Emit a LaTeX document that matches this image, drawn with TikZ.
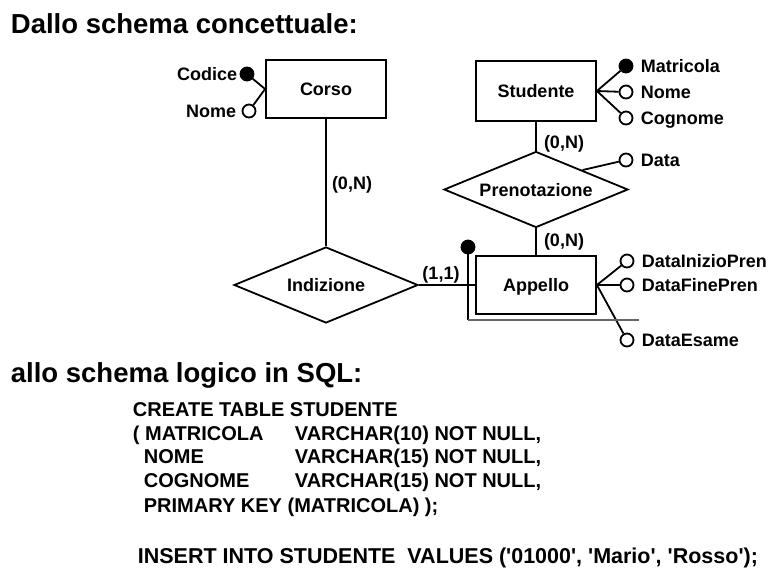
\documentclass[tikz,border=0pt]{standalone}
\usepackage{fontspec}
\setmainfont{Liberation Sans}
\usetikzlibrary{shapes.geometric}
\newcommand{\sq}{\textquotesingle}
\begin{document}
\begin{tikzpicture}[x=1pt,y=-1pt,line width=1.8pt,
  lbl/.style={inner sep=0pt,font=\fontsize{18}{20}\selectfont\bfseries,text height=13pt,text depth=0pt},
  entity/.style={lbl,draw,rectangle,minimum width=120pt,minimum height=58pt},
  rel/.style={lbl,draw,diamond,aspect=2.4,minimum width=184pt,minimum height=76pt},
  attr/.style={draw,circle,fill=white,minimum size=13pt,inner sep=0pt},
  keyattr/.style={attr,fill=black},
  title/.style={inner sep=0pt,anchor=base west,font=\fontsize{27.5}{30}\selectfont\bfseries},
  sql/.style={inner sep=0pt,anchor=base west,font=\fontsize{20}{22}\selectfont\bfseries}]
\useasboundingbox (0,0) rectangle (777,582);
% titles
\node[title] (t1) at (10,33) {Dallo schema concettuale:};
\node[title] (t2) at (10,382) {allo schema logico in SQL:};
% entities and relationships
\node[entity] (corso) at (326,89) {Corso};
\node[entity,minimum height=60pt] (stud) at (536,91) {Studente};
\node[entity] (app) at (536,285) {Appello};
\node[rel] (pren) at (536,189.5) {Prenotazione};
\node[rel] (ind) at (326,285) {Indizione};
% connectors
\draw (corso) -- (ind);
\draw (stud) -- (pren);
\draw (pren) -- (app);
\draw (ind.east) -- (app.west);
% cardinalities
\node[lbl] (c1) at (352,183) {(0,N)};
\node[lbl] (c2) at (564,142) {(0,N)};
\node[lbl] (c3) at (564,240) {(0,N)};
\node[lbl] (c4) at (441,273) {(1,1)};
% Corso attributes
\node[keyattr] (codiceC) at (247,74) {};
\node[attr] (nomeC) at (249,111) {};
\draw (codiceC) -- (corso.west);
\draw (nomeC) -- (corso.west);
\node[lbl,anchor=east] (codiceT) at (238,74) {Codice};
\node[lbl,anchor=east] (nomeT) at (237,111) {Nome};
% Studente attributes
\node[keyattr] (matrC) at (626,66) {};
\node[attr] (snomeC) at (626,92) {};
\node[attr] (cognC) at (626,118) {};
\draw (matrC) -- (stud.east);
\draw (snomeC) -- (stud.east);
\draw (cognC) -- (stud.east);
\node[lbl,anchor=west] (matrT) at (640,66) {Matricola};
\node[lbl,anchor=west] (snomeT) at (640,92) {Nome};
\node[lbl,anchor=west] (cognT) at (640,118) {Cognome};
% Prenotazione attribute
\node[attr] (dataC) at (626,160) {};
\draw (dataC) -- (pren.north east);
\node[lbl,anchor=west] (dataT) at (640,160) {Data};
% Appello attributes
\node[attr] (dipC) at (627,261) {};
\node[attr] (dfpC) at (627,285) {};
\node[attr] (deC) at (627,340) {};
\draw (dipC) -- (app.east);
\draw (dfpC) -- (app.east);
\draw (deC) -- (app.east);
\node[lbl,anchor=west] (dipT) at (641,261) {DataInizioPren};
\node[lbl,anchor=west] (dfpT) at (641,285) {DataFinePren};
\node[lbl,anchor=west] (deT) at (641,340) {DataEsame};
% external identifier
\node[keyattr] (extdot) at (468,247) {};
\coordinate (extCorner) at (468,320);
\coordinate (extEnd) at (639,320);
\draw (extdot) -- (extCorner);
\draw[black!60] (extCorner) -- (extEnd);
% SQL
\node[sql] (s1) at (132,416) {CREATE TABLE STUDENTE};
\node[sql] (s2a) at (132,440) {( MATRICOLA};
\node[sql] (s2b) at (294,440) {VARCHAR(10) NOT NULL,};
\node[sql] (s3a) at (143,463) {NOME};
\node[sql] (s3b) at (294,463) {VARCHAR(15) NOT NULL,};
\node[sql] (s4a) at (143,487) {COGNOME};
\node[sql] (s4b) at (294,487) {VARCHAR(15) NOT NULL,};
\node[sql] (s5) at (143,512) {PRIMARY KEY (MATRICOLA) );};
\node[sql,font=\fontsize{21.5}{23}\selectfont\bfseries] (s6) at (137,563) {INSERT INTO STUDENTE\ \ VALUES (\sq01000\sq, \sq Mario\sq, \sq Rosso\sq);};
\end{tikzpicture}
\end{document}
